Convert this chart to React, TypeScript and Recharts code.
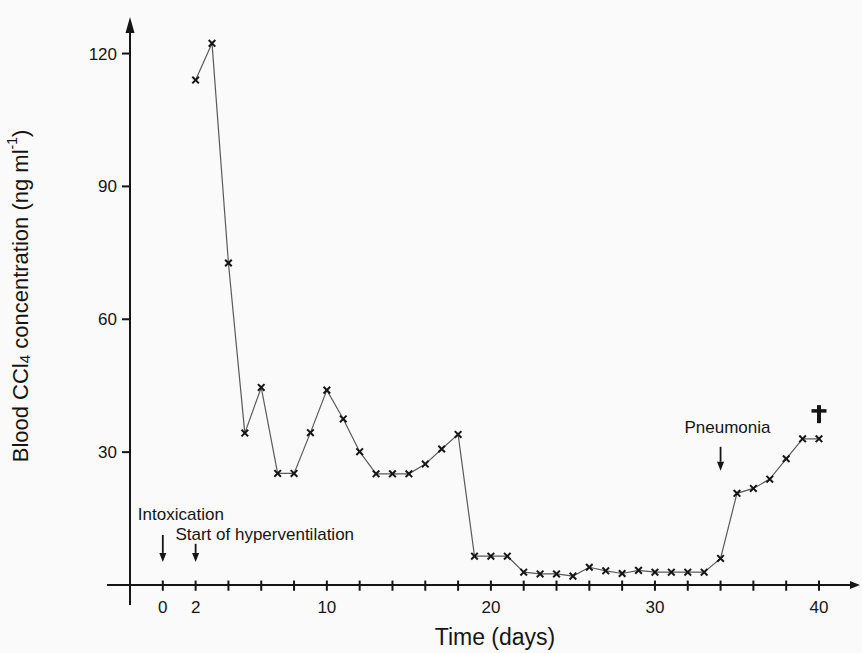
import React from "react";
import { LineChart, Line, XAxis, YAxis, ReferenceLine, ReferenceDot, Label } from "recharts";

// blood CCl4 level per day
const days = [2, 3, 4, 5, 6, 7, 8, 9, 10, 11, 12, 13, 14, 15, 16, 17, 18, 19, 20, 21, 22, 23, 24, 25, 26, 27, 28, 29, 30, 31, 32, 33, 34, 35, 36, 37, 38, 39, 40];
const concentration = [
  114.0, 122.3, 72.7, 34.3, 44.6, 25.2, 25.2, 34.4, 44.0, 37.5, 30.1, 25.1, 25.1, 25.1, 27.3, 30.7, 34.0,
  6.5, 6.5, 6.5, 2.9, 2.5, 2.5, 2.0, 4.0, 3.2, 2.6, 3.3, 2.9, 2.9, 2.9, 2.9, 6.0,
  20.7, 21.8, 23.9, 28.5, 33.0, 33.0,
];

const xLabelTicks = [0, 2, 10, 20, 30, 40];
const xTickMarks = [0, 2, 4, 6, 8, 10, 12, 14, 16, 18, 20, 22, 24, 26, 28, 30, 32, 34, 36, 38, 40];
const yTicks = [30, 60, 90, 120];

const eventLabels = [
  { day: -1.52, value: 14.7, text: "Intoxication" },
  { day: 0.77, value: 10.2, text: "Start of hyperventilation" },
  { day: 31.8, value: 34.3, text: "Pneumonia" },
];
const eventArrows = [
  { day: 0, from: 11.3, to: 5.2 },
  { day: 2, from: 9.3, to: 5.2 },
  { day: 34, from: 31.2, to: 25.8 },
];
const death = { day: 40, value: 38.8 };

const data = days.map((day, i) => ({ day, value: concentration[i] }));

const INK = "#151515";
const FONT = "'Liberation Sans', Arial, Helvetica, sans-serif";

function Arrow(props: any) {
  const { x1, y1, x2, y2, head = 9, half = 4, width = 1.8 } = props;
  const dx = x2 - x1;
  const dy = y2 - y1;
  const len = Math.hypot(dx, dy) || 1;
  const ux = dx / len;
  const uy = dy / len;
  const bx = x2 - ux * head;
  const by = y2 - uy * head;
  return (
    <g>
      <line x1={x1} y1={y1} x2={bx} y2={by} stroke={INK} strokeWidth={width} />
      <polygon
        points={`${x2},${y2} ${bx - uy * half},${by + ux * half} ${bx + uy * half},${by - ux * half}`}
        fill={INK}
      />
    </g>
  );
}

function CrossDot(props: any) {
  const { cx, cy, index } = props;
  const s = 3.3;
  return (
    <g key={`dot-${index}`}>
      <line x1={cx - s} y1={cy - s} x2={cx + s} y2={cy + s} stroke={INK} strokeWidth={2} />
      <line x1={cx - s} y1={cy + s} x2={cx + s} y2={cy - s} stroke={INK} strokeWidth={2} />
    </g>
  );
}

function YTitle() {
  return (
    <text
      x={20}
      y={296}
      transform="rotate(-90, 20, 296)"
      textAnchor="middle"
      dominantBaseline="central"
      fontSize={22}
      fill={INK}
      fontFamily={FONT}
    >
      Blood CCl
      <tspan fontSize={15} dy={4}>4</tspan>
      <tspan dy={-4}> concentration (ng ml</tspan>
      <tspan fontSize={14} dy={-8}>-1</tspan>
      <tspan dy={8}>)</tspan>
    </text>
  );
}

export default function App() {
  return (
    <div style={{ position: "absolute", left: 0, top: 0, width: 862, height: 653, background: "#fafafa" }}>
      <LineChart
        width={862}
        height={653}
        data={data}
        margin={{ top: 17, right: 2, left: 70, bottom: 23 }}
        style={{ fontFamily: FONT }}
      >
        <XAxis
          dataKey="day"
          type="number"
          domain={[-2, 42.5]}
          allowDataOverflow
          ticks={xLabelTicks}
          interval={0}
          axisLine={false}
          tickLine={false}
          tickSize={0}
          tickMargin={1}
          tick={{ fill: INK, fontSize: 17 }}
          height={30}
        >
          <Label value="Time (days)" position="insideBottom" offset={-15} fontSize={23} fill={INK} />
        </XAxis>
        <YAxis
          type="number"
          domain={[-3.39, 128.25]}
          allowDataOverflow
          ticks={yTicks}
          interval={0}
          axisLine={false}
          tickLine={{ stroke: INK, strokeWidth: 2 }}
          tickSize={8}
          tickMargin={5}
          tick={{ fill: INK, fontSize: 17 }}
          width={60}
        >
          <Label content={<YTitle />} />
        </YAxis>

        {/* axes drawn as arrows */}
        <ReferenceLine
          segment={[{ x: -2, y: -4.52 }, { x: -2, y: 128.25 }]}
          ifOverflow="visible"
          shape={(p: any) => <Arrow {...p} head={16} half={4.5} width={2} />}
        />
        <ReferenceLine
          segment={[{ x: -3.4, y: 0 }, { x: 42.5, y: 0 }]}
          ifOverflow="visible"
          shape={(p: any) => <Arrow {...p} head={10} half={4} width={2} />}
        />
        {xTickMarks.map((d) => (
          <ReferenceLine
            key={`tick-${d}`}
            segment={[{ x: d, y: 1.0 }, { x: d, y: -1.3 }]}
            ifOverflow="visible"
            stroke={INK}
            strokeWidth={2}
          />
        ))}

        {eventArrows.map((a) => (
          <ReferenceLine
            key={`arrow-${a.day}`}
            segment={[{ x: a.day, y: a.from }, { x: a.day, y: a.to }]}
            ifOverflow="visible"
            shape={(p: any) => <Arrow {...p} head={9} half={3.5} width={1.8} />}
          />
        ))}
        {eventLabels.map((e) => (
          <ReferenceDot
            key={e.text}
            x={e.day}
            y={e.value}
            r={0}
            ifOverflow="visible"
            shape={(p: any) => (
              <text x={p.cx} y={p.cy} fontSize={17} fill={INK} fontFamily={FONT}>
                {e.text}
              </text>
            )}
          />
        ))}
        <ReferenceDot
          x={death.day}
          y={death.value}
          r={0}
          ifOverflow="visible"
          shape={(p: any) => (
            <g fill={INK}>
              <rect x={p.cx - 2} y={p.cy - 8} width={4} height={18} />
              <rect x={p.cx - 7.5} y={p.cy - 4} width={15} height={3.5} />
            </g>
          )}
        />

        <Line
          type="linear"
          dataKey="value"
          stroke="#5a5a5a"
          strokeWidth={1.2}
          dot={CrossDot}
          activeDot={false}
          isAnimationActive={false}
        />
      </LineChart>
    </div>
  );
}
